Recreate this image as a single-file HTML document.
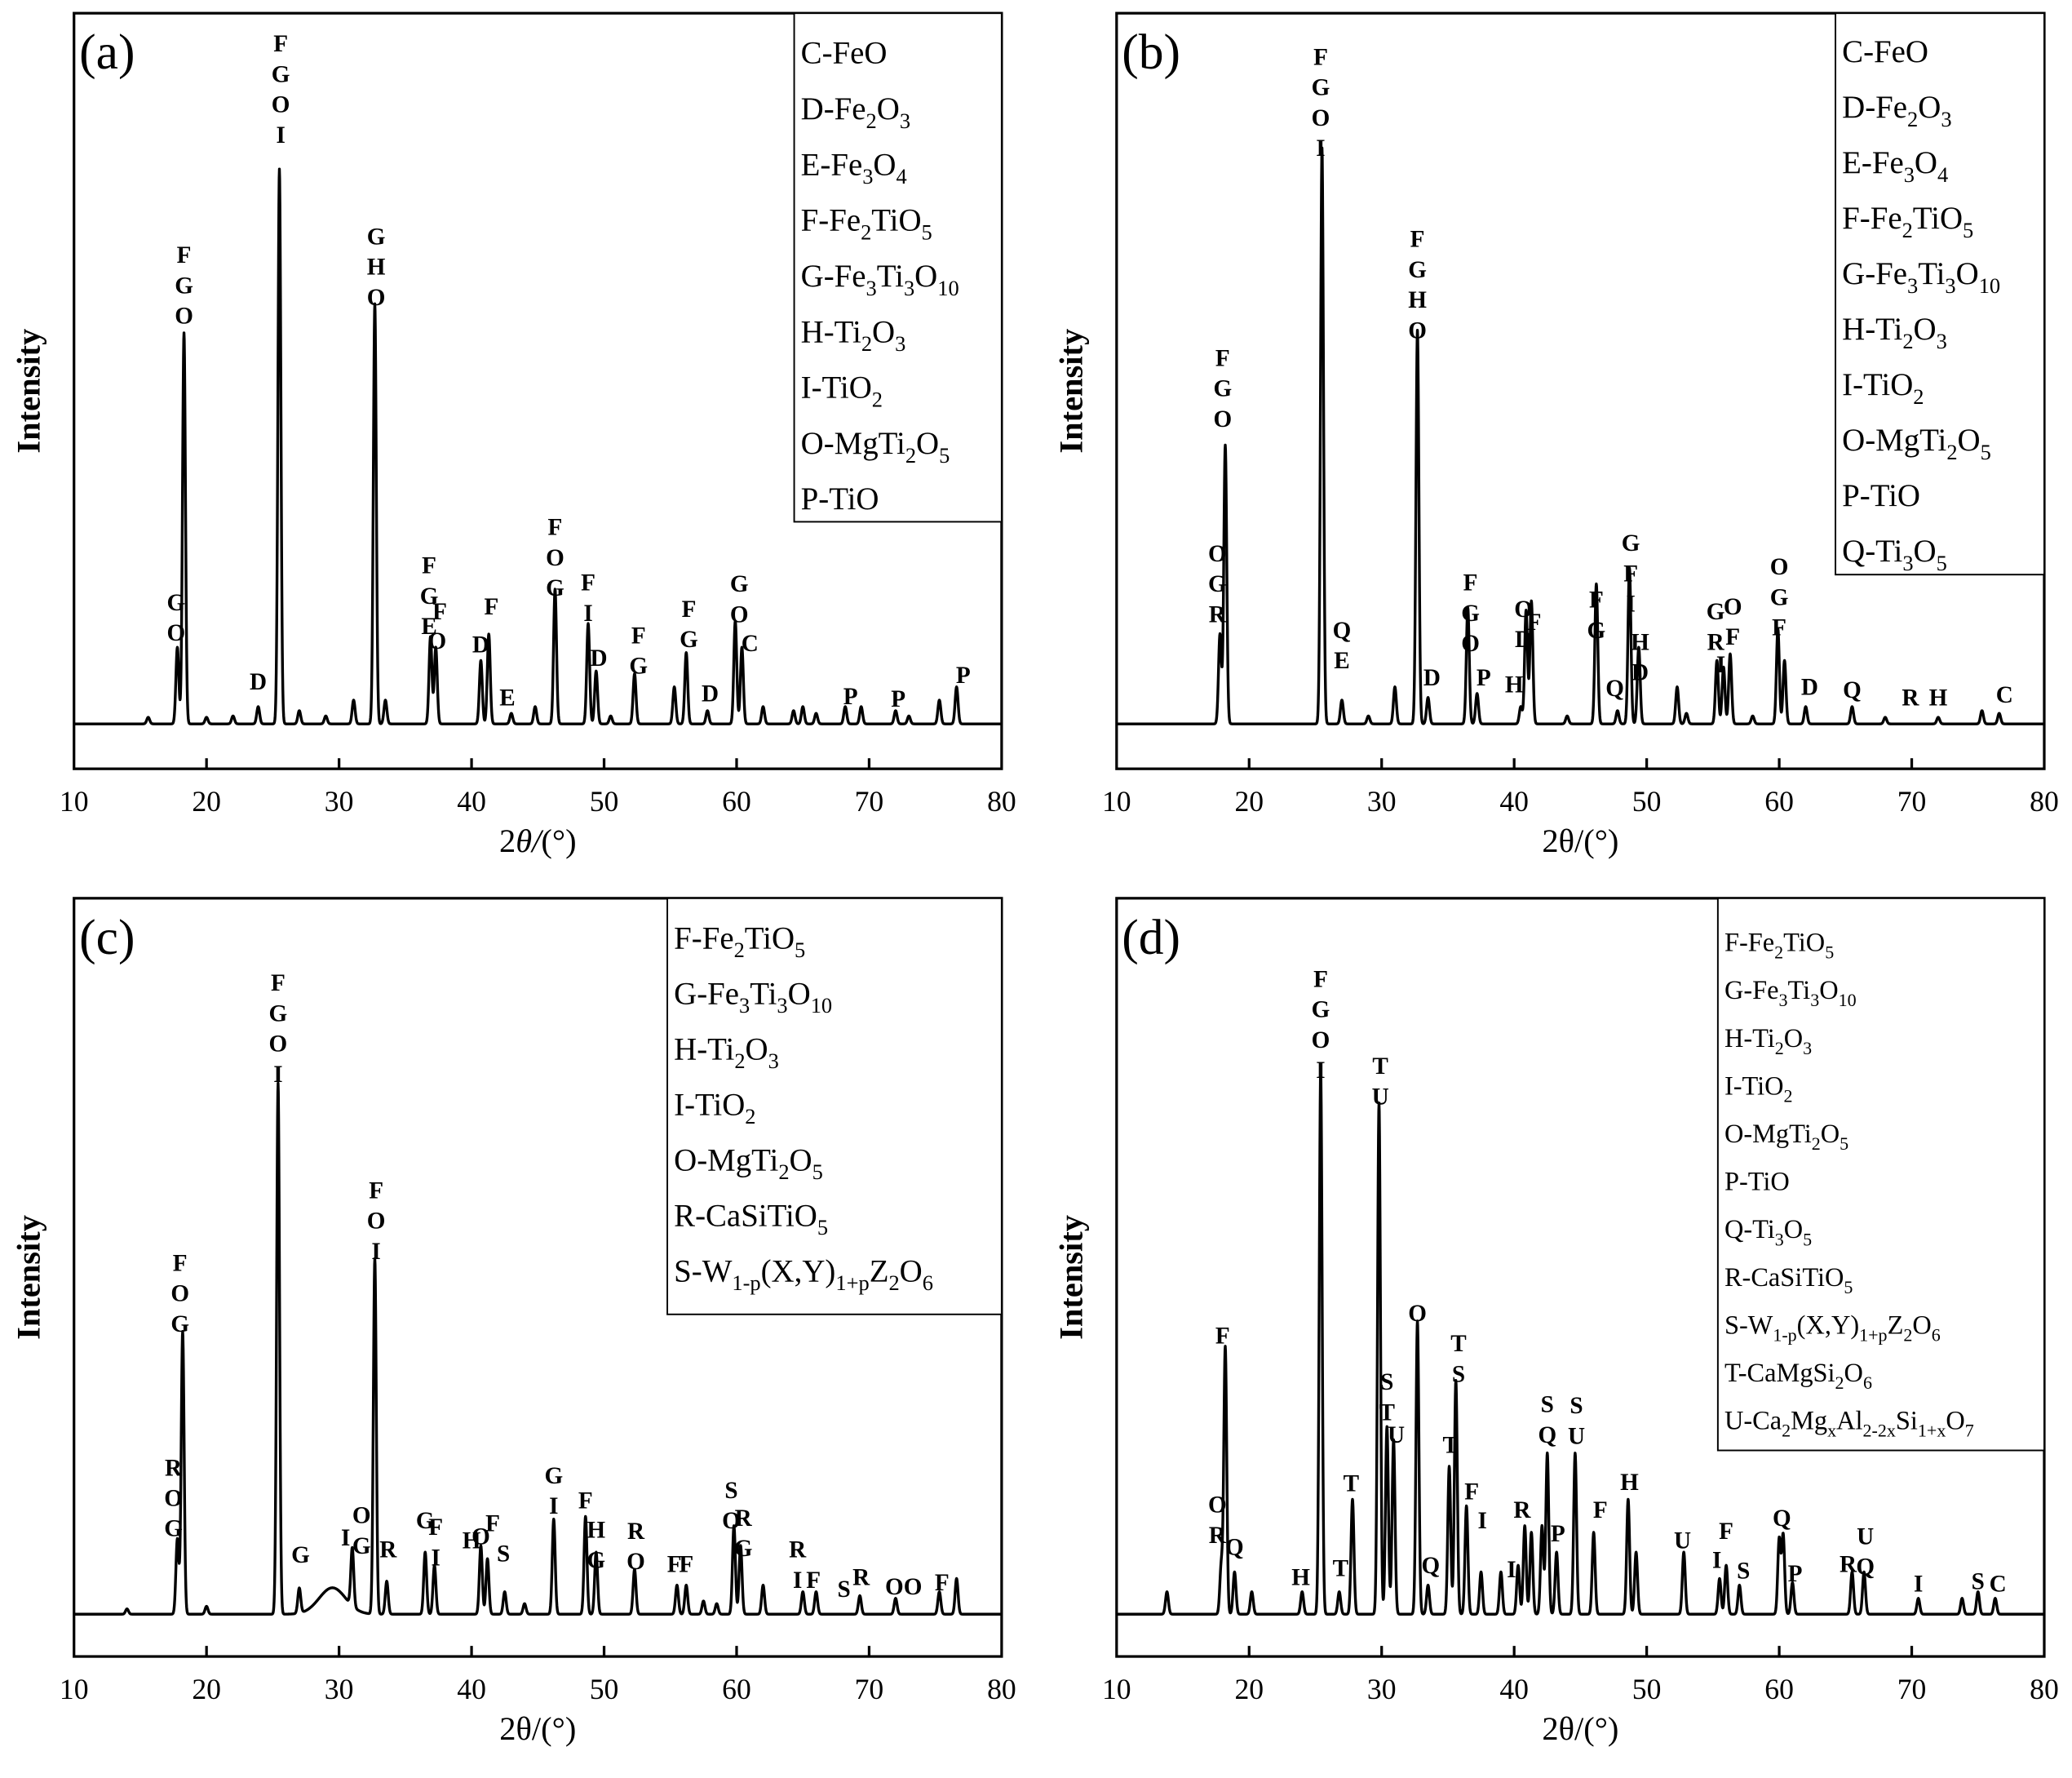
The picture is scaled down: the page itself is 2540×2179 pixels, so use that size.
<!DOCTYPE html>
<html><head><meta charset="utf-8">
<style>
html,body{margin:0;padding:0;background:#fff;}
svg{display:block;}
text{font-family:"Liberation Serif",serif;fill:#000;}
</style></head>
<body>
<svg id="fig" xmlns="http://www.w3.org/2000/svg" width="2540" height="2179" viewBox="0 0 1568 1346" preserveAspectRatio="none">
<rect x="0" y="0" width="1568" height="1346" fill="#fff"/>
</svg>
<script>
// ---------- data ----------
const ticksX = [10,20,30,40,50,60,70,80];
const baseA = 34, baseB = 34, baseC = 32, baseD = 32;
const peaksA = [[17.8,58],[18.3,296],[25.5,420],[32.7,318],[36.9,66],[37.3,58],[40.7,48],[41.3,68],[46.3,102],[48.8,76],[49.4,40],[52.3,38],[56.2,54],[59.9,78],[60.4,58],[23.9,13],[31.1,18],[33.5,18],[55.3,28],[62,13],[65,13],[68.2,13],[69.4,13],[72,10],[75.3,18],[76.6,28],[27,10],[44.8,13],[15.6,5],[20,5],[22,6],[29,6],[43,8],[50.5,6],[57.8,10],[64.3,10],[66,8],[73,6]];
const peaksB = [[17.8,68],[18.2,211],[25.5,436],[27,18],[31,28],[32.7,298],[33.5,20],[36.5,88],[37.2,23],[40.5,13],[40.9,86],[41.3,93],[46.2,106],[47.8,10],[48.7,118],[49.4,58],[52.3,28],[55.3,48],[55.8,43],[56.3,53],[59.9,72],[60.4,48],[62,13],[65.5,13],[75.3,10],[76.6,8],[29,6],[44,6],[53,8],[58,6],[68,5],[72,5]];
const peaksC = [[17.8,57],[18.2,214],[25.4,402],[27,19],[29.5,20,1.0],[31,44],[32.7,269],[33.6,25],[36.5,47],[37.2,37],[40.7,52],[41.2,42],[42.5,17],[46.2,72],[48.6,74],[49.4,47],[52.3,34],[55.5,22],[56.2,22],[59.8,67],[60.3,52],[62,22],[65,17],[66,17],[69.3,14],[72,12],[75.3,17],[76.6,27],[20,6],[14,4],[44,8],[57.5,10],[58.5,8]];
const peaksD = [[13.8,17],[17.9,37],[18.2,202],[18.9,32],[20.2,17],[24,17],[25.4,412],[26.8,17],[27.8,87],[29.8,387],[30.4,142],[30.9,132],[32.7,222],[33.5,22],[35.1,112],[35.6,177],[36.4,82],[37.5,32],[39,32],[40.3,37],[40.8,67],[41.3,62],[42.1,67],[42.5,122],[43.2,47],[44.6,122],[46,62],[48.6,87],[49.2,47],[52.8,47],[55.5,27],[56,37],[57,22],[60,57],[60.3,60],[61,24],[65.5,32],[66.4,32],[70.5,12],[73.8,12],[75,17],[76.3,12]];
const labelsA = [[17.7,127,"GO"],[18.3,390,"FGO"],[25.6,550,"FGOI"],[32.8,404,"GHO"],[23.9,67,"D"],[36.8,155,"FGE"],[37.6,120,"F"],[37.4,98,"O"],[40.7,95,"D"],[41.5,124,"F"],[42.7,55,"E"],[46.3,184,"FOG"],[48.8,142,"FI"],[49.6,85,"D"],[52.6,102,"FG"],[56.4,122,"FG"],[58.0,58,"D"],[60.2,141,"GO"],[61.0,96,"C"],[68.6,56,"P"],[72.2,54,"P"],[77.1,72,"P"]];
const labelsB = [[17.6,164,"OGR"],[18.0,312,"FGO"],[25.4,540,"FGOI"],[32.7,402,"FGHO"],[27.0,106,"QE"],[33.8,70,"D"],[36.7,142,"FGO"],[37.7,70,"P"],[40.0,65,"H"],[40.7,122,"OD"],[41.5,112,"F"],[46.2,129,"FG"],[47.6,62,"Q"],[48.8,172,"GFI"],[49.5,97,"HD"],[55.2,120,"GR"],[55.6,80,"I"],[56.5,124,"OF"],[60.0,154,"OGF"],[62.3,63,"D"],[65.5,61,"Q"],[69.9,55,"R"],[72.0,55,"H"],[77.0,57,"C"]];
const labelsC = [[17.5,144,"ROG"],[18.0,299,"FOG"],[25.4,511,"FGOI"],[32.8,354,"FOI"],[27.1,78,"G"],[30.5,91,"I"],[31.7,108,"OG"],[33.7,82,"R"],[36.5,104,"G"],[37.3,99,"FI"],[40.0,89,"H"],[40.7,92,"O"],[41.6,102,"F"],[42.4,79,"S"],[46.2,138,"GI"],[48.6,119,"F"],[49.4,97,"HG"],[52.4,96,"RO"],[55.3,71,"F"],[56.2,71,"F"],[59.6,127,"SO"],[60.5,106,"RG"],[64.6,82,"RI"],[65.8,59,"F"],[68.1,52,"S"],[69.4,61,"R"],[71.9,54,"O"],[73.3,54,"O"],[75.5,57,"F"]];
const labelsD = [[18.0,244,"F"],[17.6,116,"OR"],[18.9,84,"Q"],[25.4,514,"FGOI"],[29.9,448,"TU"],[23.9,61,"H"],[26.9,68,"T"],[27.7,132,"T"],[30.4,209,"ST"],[31.1,169,"U"],[32.7,261,"O"],[33.7,70,"Q"],[35.2,161,"T"],[35.8,238,"TS"],[36.8,126,"F"],[37.6,104,"I"],[39.8,67,"I"],[40.6,112,"R"],[42.5,192,"SQ"],[43.3,94,"P"],[44.7,191,"SU"],[46.5,112,"F"],[48.7,133,"H"],[52.7,89,"U"],[55.3,74,"I"],[56.0,96,"F"],[57.3,66,"S"],[60.2,106,"Q"],[61.2,64,"P"],[65.2,71,"R"],[66.5,92,"UQ"],[70.5,56,"I"],[75.0,58,"S"],[76.5,56,"C"]];
const legendA = ["C-FeO","D-Fe_2O_3","E-Fe_3O_4","F-Fe_2TiO_5","G-Fe_3Ti_3O_{10}","H-Ti_2O_3","I-TiO_2","O-MgTi_2O_5","P-TiO"];
const legendB = ["C-FeO","D-Fe_2O_3","E-Fe_3O_4","F-Fe_2TiO_5","G-Fe_3Ti_3O_{10}","H-Ti_2O_3","I-TiO_2","O-MgTi_2O_5","P-TiO","Q-Ti_3O_5"];
const legendC = ["F-Fe_2TiO_5","G-Fe_3Ti_3O_{10}","H-Ti_2O_3","I-TiO_2","O-MgTi_2O_5","R-CaSiTiO_5","S-W_{1-p}(X,Y)_{1+p}Z_2O_6"];
const legendD = ["F-Fe_2TiO_5","G-Fe_3Ti_3O_{10}","H-Ti_2O_3","I-TiO_2","O-MgTi_2O_5","P-TiO","Q-Ti_3O_5","R-CaSiTiO_5","S-W_{1-p}(X,Y)_{1+p}Z_2O_6","T-CaMgSi_2O_6","U-Ca_2Mg_xAl_{2-2x}Si_{1+x}O_7"];

// ---------- drawing ----------
const NS = "http://www.w3.org/2000/svg";
const svg = document.getElementById('fig');
function mk(tag, attrs, parent){
  const e = document.createElementNS(NS, tag);
  for (const k in attrs) e.setAttribute(k, attrs[k]);
  (parent||svg).appendChild(e);
  return e;
}
function richText(parent, str, x, y, fs){
  const t = mk('text', {x:x, y:y, 'font-size':fs}, parent);
  const re = /_(\{[^}]*\}|.)/g;
  let last = 0, m;
  const sub = fs*0.68, dy = fs*0.28;
  while ((m = re.exec(str))){
    if (m.index > last){ const s = mk('tspan', {}, t); s.textContent = str.slice(last, m.index); }
    let v = m[1]; if (v[0]==='{') v = v.slice(1,-1);
    const s1 = mk('tspan', {dy:dy, 'font-size':sub}, t); s1.textContent = v;
    const s2 = mk('tspan', {dy:-dy}, t); s2.textContent = '\u200b';
    last = re.lastIndex;
  }
  if (last < str.length){ const s = mk('tspan', {}, t); s.textContent = str.slice(last); }
  return t;
}

function panel(cfg){
  const g = mk('g', {});
  
  
  const xs = v => cfg.x0 + (v - 10) / 70 * (cfg.x1 - cfg.x0);
  const ys = v => cfg.y1 - v;
  let d = '';
  for (let x = 10; x <= 80.0001; x += 0.02){
    let v = cfg.base;
    for (const p of cfg.peaks){
      const w = p[2] || 0.11;
      const dx = (x - p[0]) / w;
      if (Math.abs(dx) < 6) v += p[1] * Math.exp(-0.5*dx*dx);
    }
    d += (d ? 'L' : 'M') + xs(x).toFixed(2) + ',' + ys(v).toFixed(2);
  }
  const line = mk('path', {d:d, fill:'none', stroke:'#000', 'stroke-width':2.1, 'stroke-linejoin':'round'}, g);
  
  
  const fr = mk('rect', {x:cfg.x0, y:cfg.y0, width:cfg.x1-cfg.x0, height:cfg.y1-cfg.y0, fill:'none', stroke:'#000', 'stroke-width':2}, g);
  
  
  for (const t of ticksX){
    const X = xs(t);
    if (t>10 && t<80) mk('line', {x1:X, x2:X, y1:cfg.y1, y2:cfg.y1-8, stroke:'#000', 'stroke-width':2}, g);
    const tl = mk('text', {x:X, y:cfg.y1+32, 'font-size':22, 'text-anchor':'middle'}, g);
    tl.textContent = t;
    
    
  }
  const xt = mk('text', {x:(cfg.x0+cfg.x1)/2, y:cfg.y1+63, 'font-size':25, 'text-anchor':'middle'}, g);
  xt.textContent = cfg.italic ? '' : '2θ/(°)';
  if (cfg.italic){
    const a = mk('tspan', {}, xt); a.textContent = '2';
    const b = mk('tspan', {'font-style':'italic'}, xt); b.textContent = 'θ/';
    const c = mk('tspan', {}, xt); c.textContent = '(°)';
  }
  
  
  const yc = (cfg.y0+cfg.y1)/2;
  const yt = mk('text', {x:cfg.x0-26, y:yc, 'font-size':25, 'font-weight':'bold', 'text-anchor':'middle', transform:'rotate(-90 '+(cfg.x0-26)+' '+yc+')'}, g);
  yt.textContent = 'Intensity';
  
  
  const pl = mk('text', {x:cfg.x0+4, y:cfg.y0+42, 'font-size':38}, g);
  pl.textContent = '(' + cfg.id + ')';
  
  
  for (const L of cfg.labels){
    const letters = L[2].split('');
    letters.forEach((ch, i) => {
      const tx = mk('text', {x:xs(L[0]), y:ys(L[1]) + 7 + i*23, 'font-size':18, 'font-weight':'bold', 'text-anchor':'middle'}, g);
      tx.textContent = ch;
      
      
    });
  }
  const lg = mk('g', {}, g);
  
  
  mk('rect', {x:cfg.lx, y:cfg.y0, width:cfg.x1-cfg.lx, height:cfg.lh, fill:'#fff', stroke:'#000', 'stroke-width':1.2}, lg);
  cfg.legend.forEach((s, i) => {
    const t = richText(lg, s, cfg.lx+5, cfg.y0 + cfg.lfirst + i*cfg.lstep, cfg.lfs);
    
    
  });
}

panel({id:'a', x0:56, x1:758, y0:10, y1:582, base:baseA, peaks:peaksA, labels:labelsA, legend:legendA, lx:601, lh:385, lfirst:38, lstep:42.2, lfs:24, italic:true});
panel({id:'b', x0:845, x1:1547, y0:10, y1:582, base:baseB, peaks:peaksB, labels:labelsB, legend:legendB, lx:1389, lh:425, lfirst:37, lstep:42.0, lfs:24, italic:false});
panel({id:'c', x0:56, x1:758, y0:680, y1:1254, base:baseC, peaks:peaksC, labels:labelsC, legend:legendC, lx:505, lh:315, lfirst:38, lstep:42.0, lfs:24, italic:false});
panel({id:'d', x0:845, x1:1547, y0:680, y1:1254, base:baseD, peaks:peaksD, labels:labelsD, legend:legendD, lx:1300, lh:418, lfirst:40, lstep:36.2, lfs:20, italic:false});
</script>
</body></html>
